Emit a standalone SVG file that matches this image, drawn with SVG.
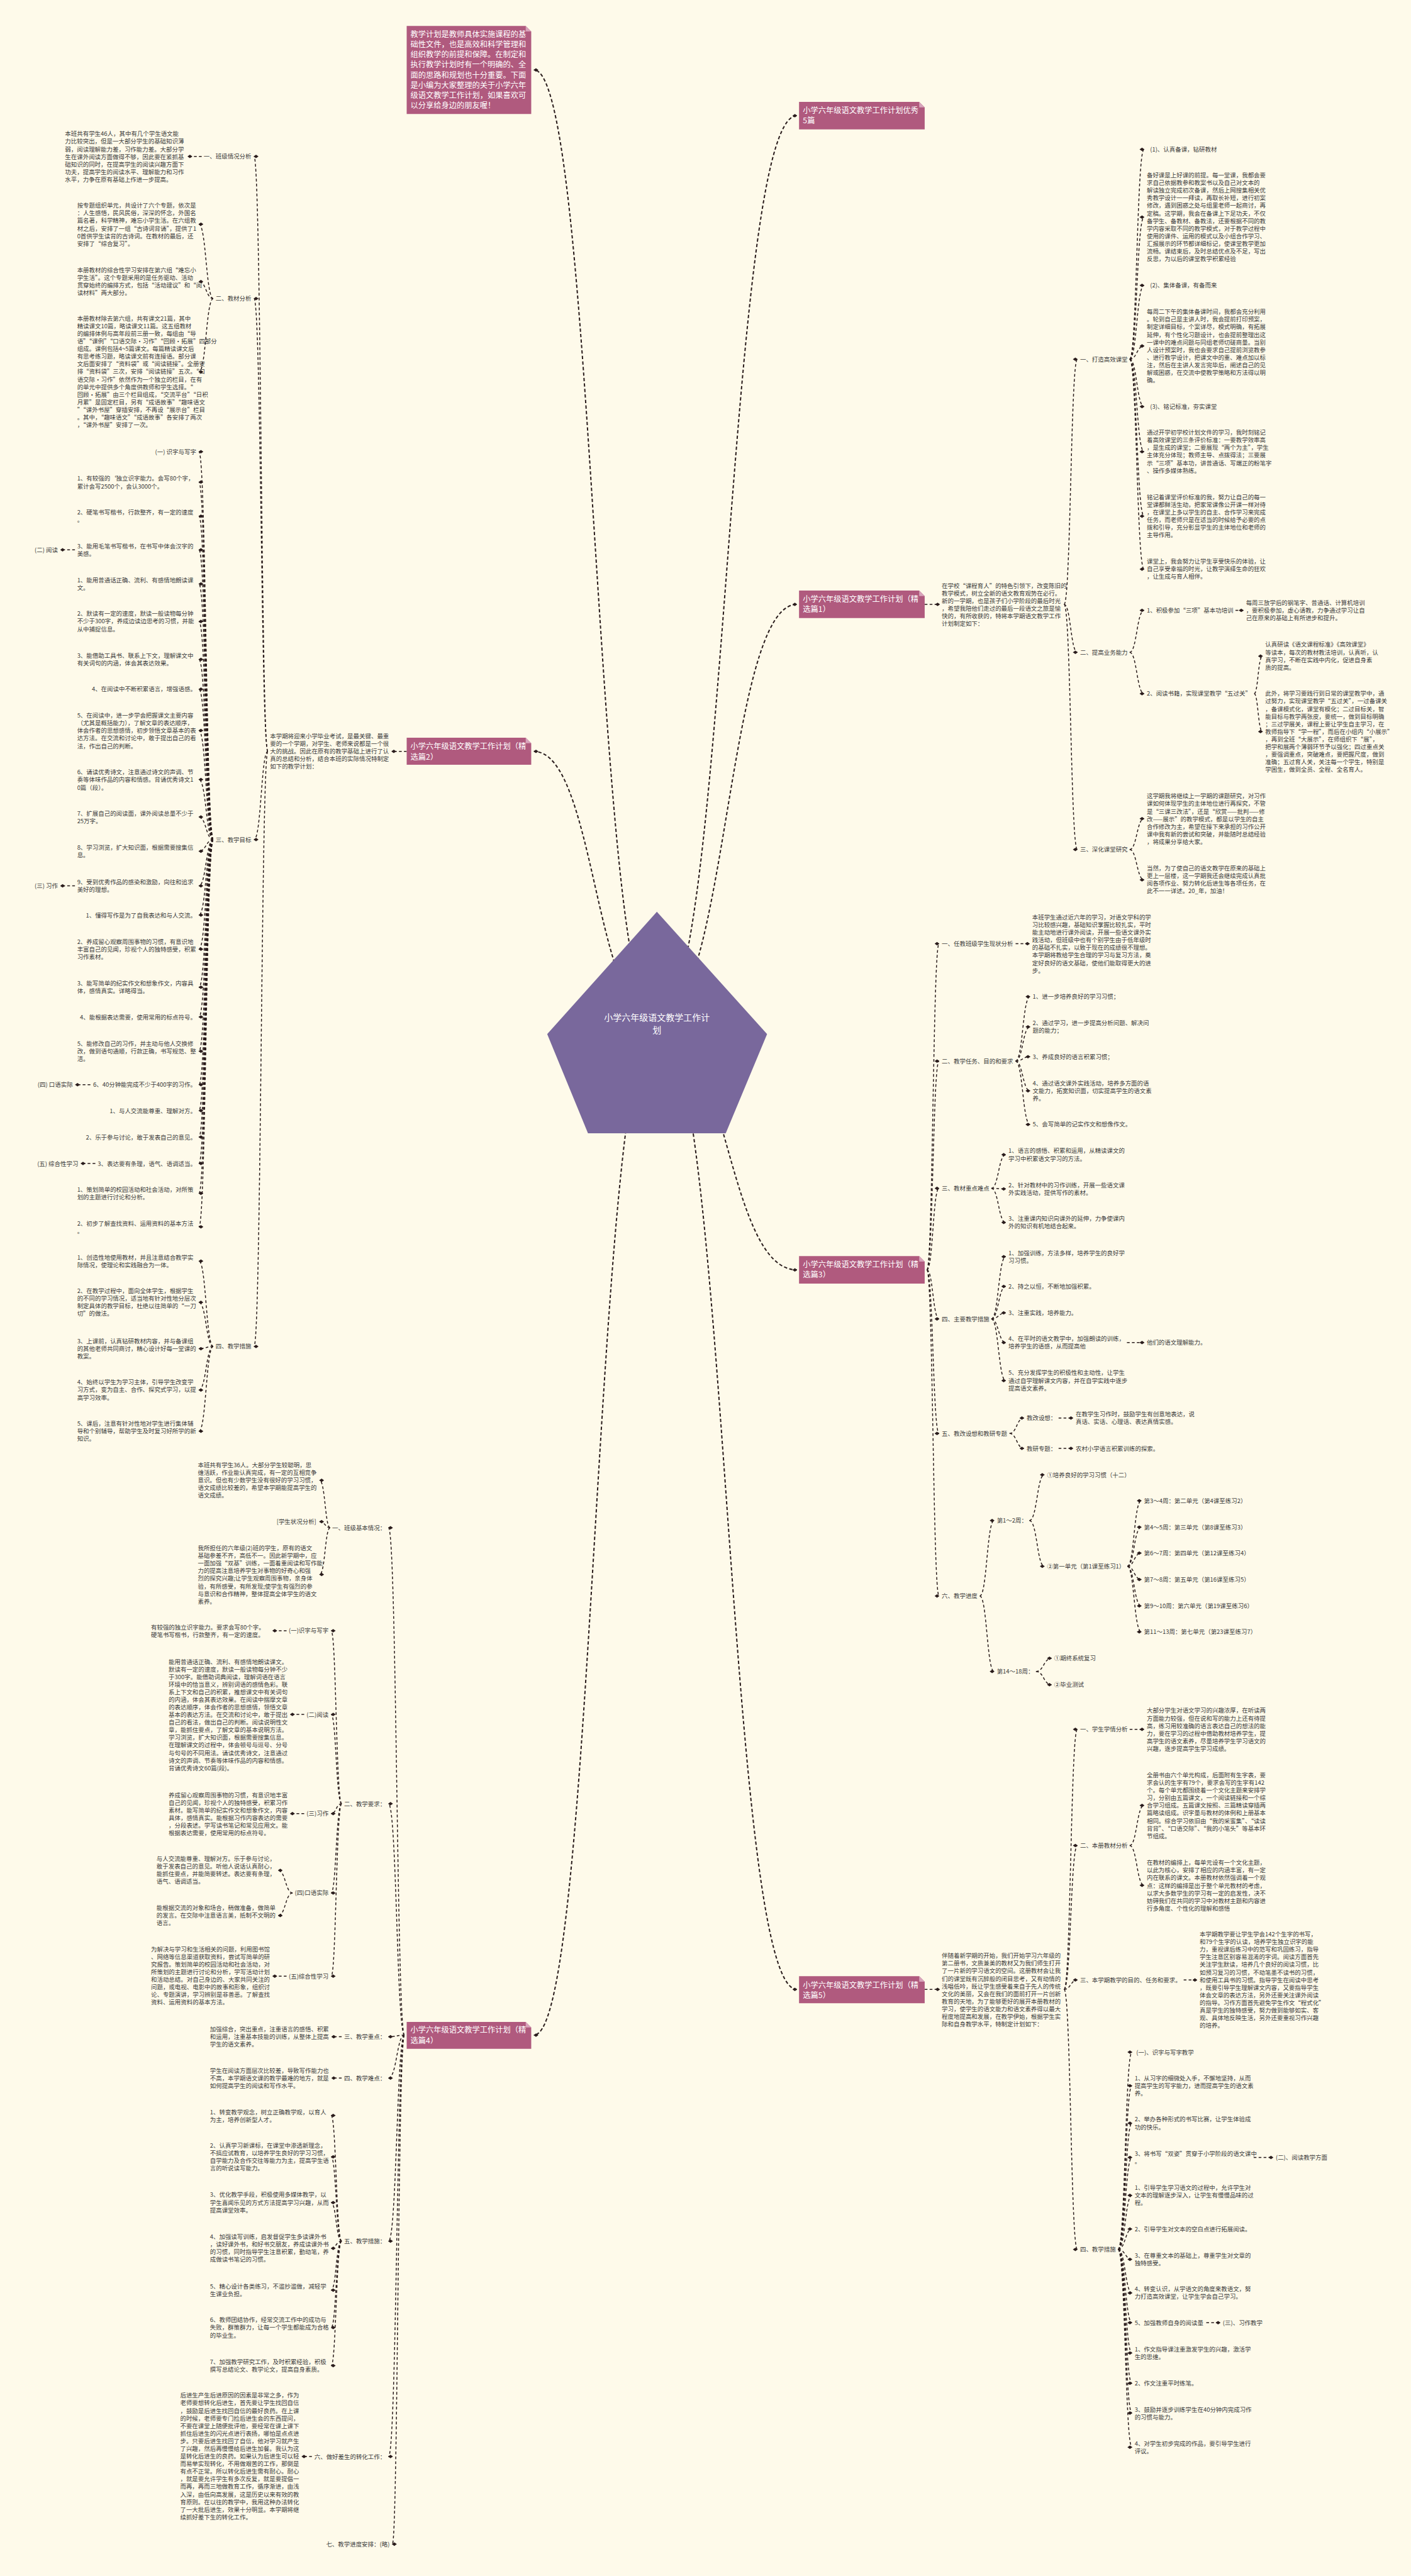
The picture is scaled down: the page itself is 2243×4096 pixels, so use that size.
<svg xmlns="http://www.w3.org/2000/svg" width="2243" height="4096" viewBox="0 0 2243 4096">
<defs>
<style>
.t{font-family:"Noto Sans CJK SC","Noto Sans",sans-serif;font-size:10.8px;fill:#3b3b3b}
.e{text-anchor:end}
.w{font-family:"Noto Sans CJK SC","Noto Sans",sans-serif;font-size:14px;fill:#ffffff}
.r{font-family:"Noto Sans CJK SC","Noto Sans",sans-serif;font-size:16px;fill:#ffffff;text-anchor:middle}
.c{fill:none;stroke:#2a1c1c;stroke-width:1.7;stroke-dasharray:5 4;marker-end:url(#dm)}
.m{fill:none;stroke:#2a1c1c;stroke-width:2.3;stroke-dasharray:6 4;marker-end:url(#dm)}
.pk{fill:#b05a7e}
.fd{fill:#d8a4bb}
</style>
<marker id="dm" viewBox="0 0 10 10" refX="9" refY="5" markerWidth="9" markerHeight="9" markerUnits="userSpaceOnUse" orient="auto"><path d="M0 5 L5 1.5 L10 5 L5 8.5 Z" fill="#2a1c1c"/></marker>
</defs>
<rect width="2243" height="4096" fill="#fefaea"/>
<g transform="scale(0.876)">
<g id="connectors">
<path class="m" d="M1192 1855 C1080 1855 1080 127 969 127"/>
<path class="m" d="M1192 1855 C1080 1855 1080 1364 969 1364"/>
<path class="m" d="M1192 1855 C1080 1855 1080 3694 969 3694"/>
<path class="m" d="M1192 1855 C1319 1855 1319 210 1446 210"/>
<path class="m" d="M1192 1855 C1319 1855 1319 1097 1446 1097"/>
<path class="m" d="M1192 1855 C1319 1855 1319 2305 1446 2305"/>
<path class="m" d="M1192 1855 C1319 1855 1319 3611 1446 3611"/>
<path class="c" d="M1678 1097 L1705 1097"/>
<path class="c" d="M1931 1097 C1943 1097 1943 652 1955 652"/>
<path class="c" d="M1931 1097 C1943 1097 1943 1184 1955 1184"/>
<path class="c" d="M1931 1097 C1943 1097 1943 1542 1955 1542"/>
<path class="c" d="M2050 652 C2063 652 2063 271 2076 271"/>
<path class="c" d="M2050 652 C2063 652 2063 394 2076 394"/>
<path class="c" d="M2050 652 C2063 652 2063 518 2076 518"/>
<path class="c" d="M2050 652 C2063 652 2063 628 2076 628"/>
<path class="c" d="M2050 652 C2063 652 2063 738 2076 738"/>
<path class="c" d="M2050 652 C2063 652 2063 820 2076 820"/>
<path class="c" d="M2050 652 C2063 652 2063 937 2076 937"/>
<path class="c" d="M2050 652 C2063 652 2063 1033 2076 1033"/>
<path class="c" d="M2050 1184 C2063 1184 2063 1108 2076 1108"/>
<path class="c" d="M2050 1184 C2063 1184 2063 1259 2076 1259"/>
<path class="c" d="M2242 1108 L2256 1108"/>
<path class="c" d="M2276 1259 C2283 1259 2283 1191 2291 1191"/>
<path class="c" d="M2276 1259 C2283 1259 2283 1328 2291 1328"/>
<path class="c" d="M2050 1542 C2063 1542 2063 1486 2076 1486"/>
<path class="c" d="M2050 1542 C2063 1542 2063 1597 2076 1597"/>
<path class="c" d="M1682 2305 C1693 2305 1693 1713 1704 1713"/>
<path class="c" d="M1682 2305 C1693 2305 1693 1926 1704 1926"/>
<path class="c" d="M1682 2305 C1693 2305 1693 2157 1704 2157"/>
<path class="c" d="M1682 2305 C1693 2305 1693 2394 1704 2394"/>
<path class="c" d="M1682 2305 C1693 2305 1693 2602 1704 2602"/>
<path class="c" d="M1682 2305 C1693 2305 1693 2897 1704 2897"/>
<path class="c" d="M1843 1713 L1868 1713"/>
<path class="c" d="M1843 1926 C1856 1926 1856 1809 1869 1809"/>
<path class="c" d="M1843 1926 C1856 1926 1856 1864 1869 1864"/>
<path class="c" d="M1843 1926 C1856 1926 1856 1918 1869 1918"/>
<path class="c" d="M1843 1926 C1856 1926 1856 1980 1869 1980"/>
<path class="c" d="M1843 1926 C1856 1926 1856 2041 1869 2041"/>
<path class="c" d="M1799 2157 C1812 2157 1812 2096 1825 2096"/>
<path class="c" d="M1799 2157 C1812 2157 1812 2158 1825 2158"/>
<path class="c" d="M1799 2157 C1812 2157 1812 2219 1825 2219"/>
<path class="c" d="M1799 2394 C1812 2394 1812 2281 1825 2281"/>
<path class="c" d="M1799 2394 C1812 2394 1812 2335 1825 2335"/>
<path class="c" d="M1799 2394 C1812 2394 1812 2383 1825 2383"/>
<path class="c" d="M1799 2394 C1812 2394 1812 2437 1825 2437"/>
<path class="c" d="M1799 2394 C1812 2394 1812 2506 1825 2506"/>
<path class="c" d="M2045 2437 L2076 2437"/>
<path class="c" d="M1832 2602 C1845 2602 1845 2574 1858 2574"/>
<path class="c" d="M1832 2602 C1845 2602 1845 2629 1858 2629"/>
<path class="c" d="M1921 2574 L1947 2574"/>
<path class="c" d="M1921 2629 L1947 2629"/>
<path class="c" d="M1778 2897 C1791 2897 1791 2760 1804 2760"/>
<path class="c" d="M1778 2897 C1791 2897 1791 3034 1804 3034"/>
<path class="c" d="M1868 2760 C1882 2760 1882 2677 1895 2677"/>
<path class="c" d="M1868 2760 C1882 2760 1882 2843 1895 2843"/>
<path class="c" d="M2046 2843 C2058 2843 2058 2724 2071 2724"/>
<path class="c" d="M2046 2843 C2058 2843 2058 2772 2071 2772"/>
<path class="c" d="M2046 2843 C2058 2843 2058 2819 2071 2819"/>
<path class="c" d="M2046 2843 C2058 2843 2058 2867 2071 2867"/>
<path class="c" d="M2046 2843 C2058 2843 2058 2915 2071 2915"/>
<path class="c" d="M2046 2843 C2058 2843 2058 2962 2071 2962"/>
<path class="c" d="M1880 3034 C1894 3034 1894 3010 1908 3010"/>
<path class="c" d="M1880 3034 C1894 3034 1894 3058 1908 3058"/>
<path class="c" d="M1678 3611 L1705 3611"/>
<path class="c" d="M1931 3611 C1943 3611 1943 3139 1955 3139"/>
<path class="c" d="M1931 3611 C1943 3611 1943 3350 1955 3350"/>
<path class="c" d="M1931 3611 C1943 3611 1943 3594 1955 3594"/>
<path class="c" d="M1931 3611 C1943 3611 1943 4083 1955 4083"/>
<path class="c" d="M2050 3139 L2076 3139"/>
<path class="c" d="M2050 3350 C2063 3350 2063 3277 2076 3277"/>
<path class="c" d="M2050 3350 C2063 3350 2063 3422 2076 3422"/>
<path class="c" d="M2148 3594 L2172 3594"/>
<path class="c" d="M2029 4083 C2042 4083 2042 3725 2054 3725"/>
<path class="c" d="M2029 4083 C2042 4083 2042 3786 2054 3786"/>
<path class="c" d="M2029 4083 C2042 4083 2042 3854 2054 3854"/>
<path class="c" d="M2029 4083 C2042 4083 2042 3916 2054 3916"/>
<path class="c" d="M2029 4083 C2042 4083 2042 3985 2054 3985"/>
<path class="c" d="M2029 4083 C2042 4083 2042 4046 2054 4046"/>
<path class="c" d="M2029 4083 C2042 4083 2042 4101 2054 4101"/>
<path class="c" d="M2029 4083 C2042 4083 2042 4162 2054 4162"/>
<path class="c" d="M2029 4083 C2042 4083 2042 4216 2054 4216"/>
<path class="c" d="M2029 4083 C2042 4083 2042 4271 2054 4271"/>
<path class="c" d="M2029 4083 C2042 4083 2042 4326 2054 4326"/>
<path class="c" d="M2029 4083 C2042 4083 2042 4380 2054 4380"/>
<path class="c" d="M2029 4083 C2042 4083 2042 4442 2054 4442"/>
<path class="c" d="M2275 3916 L2310 3916"/>
<path class="c" d="M2189 4216 L2214 4216"/>
<path class="c" d="M738 1364 L711 1364"/>
<path class="c" d="M486 1364 C474 1364 474 284 461 284"/>
<path class="c" d="M486 1364 C474 1364 474 542 461 542"/>
<path class="c" d="M486 1364 C474 1364 474 1524 461 1524"/>
<path class="c" d="M486 1364 C474 1364 474 2444 461 2444"/>
<path class="c" d="M366 284 L341 284"/>
<path class="c" d="M387 542 C374 542 374 407 361 407"/>
<path class="c" d="M387 542 C374 542 374 511 361 511"/>
<path class="c" d="M387 542 C374 542 374 675 361 675"/>
<path class="c" d="M387 1524 C374 1524 374 820 361 820"/>
<path class="c" d="M387 1524 C374 1524 374 875 361 875"/>
<path class="c" d="M387 1524 C374 1524 374 937 361 937"/>
<path class="c" d="M387 1524 C374 1524 374 998 361 998"/>
<path class="c" d="M387 1524 C374 1524 374 1060 361 1060"/>
<path class="c" d="M387 1524 C374 1524 374 1128 361 1128"/>
<path class="c" d="M387 1524 C374 1524 374 1197 361 1197"/>
<path class="c" d="M387 1524 C374 1524 374 1251 361 1251"/>
<path class="c" d="M387 1524 C374 1524 374 1326 361 1326"/>
<path class="c" d="M387 1524 C374 1524 374 1415 361 1415"/>
<path class="c" d="M387 1524 C374 1524 374 1483 361 1483"/>
<path class="c" d="M387 1524 C374 1524 374 1545 361 1545"/>
<path class="c" d="M387 1524 C374 1524 374 1608 361 1608"/>
<path class="c" d="M387 1524 C374 1524 374 1661 361 1661"/>
<path class="c" d="M387 1524 C374 1524 374 1723 361 1723"/>
<path class="c" d="M387 1524 C374 1524 374 1792 361 1792"/>
<path class="c" d="M387 1524 C374 1524 374 1846 361 1846"/>
<path class="c" d="M387 1524 C374 1524 374 1908 361 1908"/>
<path class="c" d="M387 1524 C374 1524 374 1969 361 1969"/>
<path class="c" d="M387 1524 C374 1524 374 2016 361 2016"/>
<path class="c" d="M387 1524 C374 1524 374 2064 361 2064"/>
<path class="c" d="M387 1524 C374 1524 374 2112 361 2112"/>
<path class="c" d="M387 1524 C374 1524 374 2166 361 2166"/>
<path class="c" d="M387 1524 C374 1524 374 2227 361 2227"/>
<path class="c" d="M136 998 L110 998"/>
<path class="c" d="M136 1608 L110 1608"/>
<path class="c" d="M164 1969 L137 1969"/>
<path class="c" d="M173 2112 L147 2112"/>
<path class="c" d="M387 2444 C374 2444 374 2289 361 2289"/>
<path class="c" d="M387 2444 C374 2444 374 2364 361 2364"/>
<path class="c" d="M387 2444 C374 2444 374 2448 361 2448"/>
<path class="c" d="M387 2444 C374 2444 374 2523 361 2523"/>
<path class="c" d="M387 2444 C374 2444 374 2598 361 2598"/>
<path class="c" d="M734 3694 C720 3694 720 2773 705 2773"/>
<path class="c" d="M734 3694 C720 3694 720 3274 705 3274"/>
<path class="c" d="M734 3694 C720 3694 720 3697 705 3697"/>
<path class="c" d="M734 3694 C720 3694 720 3772 705 3772"/>
<path class="c" d="M734 3694 C720 3694 720 4068 705 4068"/>
<path class="c" d="M734 3694 C720 3694 720 4459 705 4459"/>
<path class="c" d="M734 3694 C722 3694 722 4618 712 4618"/>
<path class="c" d="M599 2773 C590 2773 590 2687 580 2687"/>
<path class="c" d="M599 2773 C590 2773 590 2762 580 2762"/>
<path class="c" d="M599 2773 C590 2773 590 2858 580 2858"/>
<path class="c" d="M620 3274 C610 3274 610 2960 601 2960"/>
<path class="c" d="M620 3274 C610 3274 610 3112 601 3112"/>
<path class="c" d="M620 3274 C610 3274 610 3292 601 3292"/>
<path class="c" d="M620 3274 C610 3274 610 3436 601 3436"/>
<path class="c" d="M620 3274 C610 3274 610 3587 601 3587"/>
<path class="c" d="M520 2960 L495 2960"/>
<path class="c" d="M552 3112 L527 3112"/>
<path class="c" d="M552 3292 L527 3292"/>
<path class="c" d="M531 3436 C518 3436 518 3395 505 3395"/>
<path class="c" d="M531 3436 C518 3436 518 3477 505 3477"/>
<path class="c" d="M520 3587 L495 3587"/>
<path class="c" d="M620 3697 L602 3697"/>
<path class="c" d="M620 3772 L602 3772"/>
<path class="c" d="M620 4068 C610 4068 610 3840 601 3840"/>
<path class="c" d="M620 4068 C610 4068 610 3915 601 3915"/>
<path class="c" d="M620 4068 C610 4068 610 3998 601 3998"/>
<path class="c" d="M620 4068 C610 4068 610 4081 601 4081"/>
<path class="c" d="M620 4068 C610 4068 610 4157 601 4157"/>
<path class="c" d="M620 4068 C610 4068 610 4225 601 4225"/>
<path class="c" d="M620 4068 C610 4068 610 4294 601 4294"/>
<path class="c" d="M566 4459 L548 4459"/>
</g>

<g id="root">
<polygon points="1192,1655 1392,1877 1317,2057 1067,2057 993,1877" fill="#79689c"/>
<text class="r" x="1192" y="1853">小学六年级语文教学工作计</text>
<text class="r" x="1192" y="1876">划</text>
</g>

<g id="note">
<polygon class="pk" points="738,47 954,47 964,57 964,207 738,207"/>
<polygon class="fd" points="954,47 954,57 964,57"/>
<text class="w" x="745" y="67"><tspan x="745">教学计划是教师具体实施课程的基</tspan><tspan x="745" dy="18.5">础性文件，也是高效和科学管理和</tspan><tspan x="745" dy="18.5">组织教学的前提和保障。在制定和</tspan><tspan x="745" dy="18.5">执行教学计划时有一个明确的、全</tspan><tspan x="745" dy="18.5">面的思路和规划也十分重要。下面</tspan><tspan x="745" dy="18.5">是小编为大家整理的关于小学六年</tspan><tspan x="745" dy="18.5">级语文教学工作计划，如果喜欢可</tspan><tspan x="745" dy="18.5">以分享给身边的朋友喔！</tspan></text>
</g>

<g id="b-top">
<polygon class="pk" points="1450,185 1668,185 1678,195 1678,235 1450,235"/>
<polygon class="fd" points="1668,185 1668,195 1678,195"/>
<text class="w" x="1457" y="205.5"><tspan x="1457">小学六年级语文教学工作计划优秀</tspan><tspan x="1457" dy="18">5篇</tspan></text>
</g>

<g id="b-p1">
<polygon class="pk" points="1450,1072 1668,1072 1678,1082 1678,1122 1450,1122"/>
<polygon class="fd" points="1668,1072 1668,1082 1678,1082"/>
<text class="w" x="1457" y="1092"><tspan x="1457">小学六年级语文教学工作计划（精</tspan><tspan x="1457" dy="19">选篇1）</tspan></text>
</g>
<g id="p1-intro"><text class="t" x="1709" y="1067"><tspan x="1709">在学校“课程育人”的特色引领下，改变陈旧的</tspan><tspan x="1709" dy="13.8">教学模式，树立全新的语文教育观势在必行。</tspan><tspan x="1709" dy="13.8">新的一学期，也是孩子们小学阶段的最后时光</tspan><tspan x="1709" dy="13.8">，希望我陪他们走过的最后一段语文之旅是愉</tspan><tspan x="1709" dy="13.8">快的，有所收获的，特将本学期语文教学工作</tspan><tspan x="1709" dy="13.8">计划制定如下：</tspan></text></g>
<g id="p1-a"><text class="t" x="1960" y="656">一、打造高效课堂</text></g>
<g id="p1-b"><text class="t" x="1960" y="1188">二、提高业务能力</text></g>
<g id="p1-c"><text class="t" x="1960" y="1546">三、深化课堂研究</text></g>
<g id="p1-a1"><text class="t" x="2087" y="275">(1)、认真备课，钻研教材</text></g>
<g id="p1-a1t"><text class="t" x="2081" y="322"><tspan x="2081">备好课是上好课的前提。每一堂课，我都会要</tspan><tspan x="2081" dy="13.8">求自己依据教参和教案书以及自己对文本的</tspan><tspan x="2081" dy="13.8">解读独立完成初次备课，然后上网搜集相关优</tspan><tspan x="2081" dy="13.8">秀教学设计一一拜读，再取长补短，进行初案</tspan><tspan x="2081" dy="13.8">修改，遇到困惑之处与组里老师一起商讨，再</tspan><tspan x="2081" dy="13.8">定稿。这学期，我会在备课上下足功夫，不仅</tspan><tspan x="2081" dy="13.8">备学生、备教材、备教法，还要根据不同的教</tspan><tspan x="2081" dy="13.8">学内容采取不同的教学模式，对于教学过程中</tspan><tspan x="2081" dy="13.8">使用的课件、运用的模式以及小组合作学习、</tspan><tspan x="2081" dy="13.8">汇报展示的环节都详细标记，使课堂教学更加</tspan><tspan x="2081" dy="13.8">流畅。课结束后，及时总结优点及不足，写出</tspan><tspan x="2081" dy="13.8">反思，为以后的课堂教学积累经验</tspan></text></g>
<g id="p1-a2"><text class="t" x="2087" y="522">(2)、集体备课，有备而来</text></g>
<g id="p1-a2t"><text class="t" x="2081" y="570"><tspan x="2081">每周二下午的集体备课时间，我都会充分利用</tspan><tspan x="2081" dy="13.8">。轮到自己是主讲人时，我会提前打印预案，</tspan><tspan x="2081" dy="13.8">制定详细目标，个案详尽，模式明确，有拓展</tspan><tspan x="2081" dy="13.8">延伸，有个性化习题设计，也会提前整理出这</tspan><tspan x="2081" dy="13.8">一课中的难点问题与同组老师切磋商量。当别</tspan><tspan x="2081" dy="13.8">人设计预案时，我也会要求自己提前浏览教参</tspan><tspan x="2081" dy="13.8">、进行教学设计，把课文中的重、难点加以标</tspan><tspan x="2081" dy="13.8">注，然后在主讲人发言完毕后，阐述自己的见</tspan><tspan x="2081" dy="13.8">解或困惑，在交流中使教学策略和方法得以明</tspan><tspan x="2081" dy="13.8">确。</tspan></text></g>
<g id="p1-a3"><text class="t" x="2087" y="742">(3)、铭记标准，夯实课堂</text></g>
<g id="p1-a3t"><text class="t" x="2081" y="789"><tspan x="2081">通过开学初学校计划文件的学习，我时刻铭记</tspan><tspan x="2081" dy="13.8">着高效课堂的三条评价标准：一要教学效率高</tspan><tspan x="2081" dy="13.8">，是生成的课堂；二要展现“两个为主”，学生</tspan><tspan x="2081" dy="13.8">主体充分体现；教师主导、点拨得法；三要展</tspan><tspan x="2081" dy="13.8">示“三项”基本功，讲普通话、写端正的粉笔字</tspan><tspan x="2081" dy="13.8">、操作多媒体熟练。</tspan></text></g>
<g id="p1-a4t"><text class="t" x="2081" y="906"><tspan x="2081">铭记着课堂评价标准的我，努力让自己的每一</tspan><tspan x="2081" dy="13.8">堂课都鲜活生动，把家常课像公开课一样对待</tspan><tspan x="2081" dy="13.8">，在课堂上多以学生的自主、合作学习来完成</tspan><tspan x="2081" dy="13.8">任务，而老师只是在适当的时候给予必要的点</tspan><tspan x="2081" dy="13.8">拨和引导，充分彰显学生的主体地位和老师的</tspan><tspan x="2081" dy="13.8">主导作用。</tspan></text></g>
<g id="p1-a5t"><text class="t" x="2081" y="1023"><tspan x="2081">课堂上，我会努力让学生享受快乐的体验，让</tspan><tspan x="2081" dy="13.8">自己享受幸福的时光，让教学演绎生命的狂欢</tspan><tspan x="2081" dy="13.8">，让生成与育人相伴。</tspan></text></g>
<g id="p1-b1"><text class="t" x="2081" y="1112">1、积极参加“三项”基本功培训</text></g>
<g id="p1-b1t"><text class="t" x="2261" y="1098.5"><tspan x="2261">每周三放学后的钢笔字、普通话、计算机培训</tspan><tspan x="2261" dy="13.8">，要积极参加，虚心请教，力争通过学习让自</tspan><tspan x="2261" dy="13.8">己在原来的基础上有所进步和提升。</tspan></text></g>
<g id="p1-b2"><text class="t" x="2081" y="1263">2、阅读书籍，实现课堂教学“五过关”</text></g>
<g id="p1-b2a"><text class="t" x="2296" y="1174"><tspan x="2296">认真研读《语文课程标准》《高效课堂》</tspan><tspan x="2296" dy="13.8">等读本，每次的教材教法培训，认真听，认</tspan><tspan x="2296" dy="13.8">真学习，不断在实践中内化，促进自身素</tspan><tspan x="2296" dy="13.8">质的提高。</tspan></text></g>
<g id="p1-b2b"><text class="t" x="2296" y="1263"><tspan x="2296">此外，将学习要践行到日常的课堂教学中，通</tspan><tspan x="2296" dy="13.8">过努力，实现课堂教学“五过关”，一过备课关</tspan><tspan x="2296" dy="13.8">，备课模式化，课堂有模化；二过目标关，智</tspan><tspan x="2296" dy="13.8">能目标与教学两张皮，要统一，做到目标明确</tspan><tspan x="2296" dy="13.8">；三过学展关，课程上要让学生自主学习，在</tspan><tspan x="2296" dy="13.8">教师指导下“学一程”，而后在小组内“小展示”</tspan><tspan x="2296" dy="13.8">，再到全班“大展示”，在师组织下“展”，</tspan><tspan x="2296" dy="13.8">把学和展两个薄弱环节予以强化；四过重点关</tspan><tspan x="2296" dy="13.8">，要强调重点，突破难点，要把握尺度，做到</tspan><tspan x="2296" dy="13.8">准确；五过育人关，关注每一个学生，特别是</tspan><tspan x="2296" dy="13.8">学困生，做到全员、全程、全名育人。</tspan></text></g>
<g id="p1-c1"><text class="t" x="2081" y="1449"><tspan x="2081">这学期我将继续上一学期的课题研究，对习作</tspan><tspan x="2081" dy="13.8">课如何体现学生的主体地位进行再探究，不管</tspan><tspan x="2081" dy="13.8">是“三课三改法”，还是“欣赏——批判——修</tspan><tspan x="2081" dy="13.8">改——展示”的教学模式，都是以学生的自主</tspan><tspan x="2081" dy="13.8">合作修改为主，希望在接下来承担的习作公开</tspan><tspan x="2081" dy="13.8">课中我有新的尝试和突破，并能随时总结经验</tspan><tspan x="2081" dy="13.8">，将成果分享给大家。</tspan></text></g>
<g id="p1-c2"><text class="t" x="2081" y="1580"><tspan x="2081">当然，为了使自己的语文教学在原来的基础上</tspan><tspan x="2081" dy="13.8">更上一层楼，这一学期我还会继续完成认真批</tspan><tspan x="2081" dy="13.8">阅各项作业、努力转化后进生等各项任务，在</tspan><tspan x="2081" dy="13.8">此不一一详述。20_年，加油！</tspan></text></g>

<g id="b-p3">
<polygon class="pk" points="1450,2280 1668,2280 1678,2290 1678,2330 1450,2330"/>
<polygon class="fd" points="1668,2280 1668,2290 1678,2290"/>
<text class="w" x="1457" y="2300.5"><tspan x="1457">小学六年级语文教学工作计划（精</tspan><tspan x="1457" dy="18.5">选篇3）</tspan></text>
</g>
<g id="p3-a"><text class="t" x="1709" y="1717">一、任教班级学生现状分析</text></g>
<g id="p3-at"><text class="t" x="1873" y="1669"><tspan x="1873">本班学生通过近六年的学习，对语文学科的学</tspan><tspan x="1873" dy="13.8">习比较感兴趣，基础知识掌握比较扎实，平时</tspan><tspan x="1873" dy="13.8">能主动地进行课外阅读，开展一些语文课外实</tspan><tspan x="1873" dy="13.8">践活动，但班级中也有个别学生由于低年级时</tspan><tspan x="1873" dy="13.8">的基础不扎实，以致于现在的成绩很不理想。</tspan><tspan x="1873" dy="13.8">本学期将教给学生合理的学习与复习方法，奠</tspan><tspan x="1873" dy="13.8">定好良好的语文基础，使他们能取得更大的进</tspan><tspan x="1873" dy="13.8">步。</tspan></text></g>
<g id="p3-b"><text class="t" x="1709" y="1930">二、教学任务、目的和要求</text></g>
<g id="p3-b1"><text class="t" x="1874" y="1813">1、进一步培养良好的学习习惯；</text></g>
<g id="p3-b2"><text class="t" x="1874" y="1861"><tspan x="1874">2、通过学习，进一步提高分析问题、解决问</tspan><tspan x="1874" dy="13.8">题的能力；</tspan></text></g>
<g id="p3-b3"><text class="t" x="1874" y="1922">3、养成良好的语言积累习惯；</text></g>
<g id="p3-b4"><text class="t" x="1874" y="1970"><tspan x="1874">4、通过语文课外实践活动，培养多方面的语</tspan><tspan x="1874" dy="13.8">文能力，拓宽知识面，切实提高学生的语文素</tspan><tspan x="1874" dy="13.8">养。</tspan></text></g>
<g id="p3-b5"><text class="t" x="1874" y="2045">5、会写简单的记实作文和想像作文。</text></g>
<g id="p3-c"><text class="t" x="1709" y="2161">三、教材重点难点</text></g>
<g id="p3-c1"><text class="t" x="1830" y="2093"><tspan x="1830">1、语言的感悟、积累和运用，从精读课文的</tspan><tspan x="1830" dy="13.8">学习中积累语文学习的方法。</tspan></text></g>
<g id="p3-c2"><text class="t" x="1830" y="2155"><tspan x="1830">2、针对教材中的习作训练，开展一些语文课</tspan><tspan x="1830" dy="13.8">外实践活动，提供写作的素材。</tspan></text></g>
<g id="p3-c3"><text class="t" x="1830" y="2216"><tspan x="1830">3、注重课内知识向课外的延伸，力争使课内</tspan><tspan x="1830" dy="13.8">外的知识有机地结合起来。</tspan></text></g>
<g id="p3-d"><text class="t" x="1709" y="2398">四、主要教学措施</text></g>
<g id="p3-d1"><text class="t" x="1830" y="2278"><tspan x="1830">1、加强训练，方法多样，培养学生的良好学</tspan><tspan x="1830" dy="13.8">习习惯。</tspan></text></g>
<g id="p3-d2"><text class="t" x="1830" y="2339">2、持之以恒，不断地加强积累。</text></g>
<g id="p3-d3"><text class="t" x="1830" y="2387">3、注重实践，培养能力。</text></g>
<g id="p3-d4"><text class="t" x="1830" y="2434"><tspan x="1830">4、在平时的语文教学中，加强朗读的训练，</tspan><tspan x="1830" dy="13.8">培养学生的语感，从而提高他</tspan></text></g>
<g id="p3-d4a"><text class="t" x="2081" y="2441">他们的语文理解能力。</text></g>
<g id="p3-d5"><text class="t" x="1830" y="2496"><tspan x="1830">5、充分发挥学生的积极性和主动性，让学生</tspan><tspan x="1830" dy="13.8">通过自学理解课文内容，并在自学实践中逐步</tspan><tspan x="1830" dy="13.8">提高语文素养。</tspan></text></g>
<g id="p3-e"><text class="t" x="1709" y="2606">五、教改设想和教研专题</text></g>
<g id="p3-e1"><text class="t" x="1863" y="2578">教改设想：</text></g>
<g id="p3-e1t"><text class="t" x="1952" y="2571"><tspan x="1952">在教学生习作时，鼓励学生有创意地表达，说</tspan><tspan x="1952" dy="13.8">真话、实话、心理话、表达真情实感。</tspan></text></g>
<g id="p3-e2"><text class="t" x="1863" y="2633">教研专题：</text></g>
<g id="p3-e2t"><text class="t" x="1952" y="2633">农村小学语言积累训练的探索。</text></g>
<g id="p3-f"><text class="t" x="1709" y="2901">六、教学进度</text></g>
<g id="p3-f1"><text class="t" x="1809" y="2764">第1～2周：</text></g>
<g id="p3-f1a"><text class="t" x="1900" y="2681">①培养良好的学习习惯（十二）</text></g>
<g id="p3-f1b"><text class="t" x="1900" y="2847">②第一单元（第1课至练习1）</text></g>
<g id="p3-w1"><text class="t" x="2076" y="2728">第3～4周：第二单元（第4课至练习2）</text></g>
<g id="p3-w2"><text class="t" x="2076" y="2776">第4～5周：第三单元（第8课至练习3）</text></g>
<g id="p3-w3"><text class="t" x="2076" y="2823">第6～7周：第四单元（第12课至练习4）</text></g>
<g id="p3-w4"><text class="t" x="2076" y="2871">第7～8周：第五单元（第16课至练习5）</text></g>
<g id="p3-w5"><text class="t" x="2076" y="2919">第9～10周：第六单元（第19课至练习6）</text></g>
<g id="p3-w6"><text class="t" x="2076" y="2966">第11～13周：第七单元（第23课至练习7）</text></g>
<g id="p3-f2"><text class="t" x="1809" y="3038">第14～18周：</text></g>
<g id="p3-f2a"><text class="t" x="1913" y="3014">①期终系统复习</text></g>
<g id="p3-f2b"><text class="t" x="1913" y="3062">②毕业测试</text></g>

<g id="b-p5">
<polygon class="pk" points="1450,3587 1668,3587 1678,3597 1678,3636 1450,3636"/>
<polygon class="fd" points="1668,3587 1668,3597 1678,3597"/>
<text class="w" x="1457" y="3608"><tspan x="1457">小学六年级语文教学工作计划（精</tspan><tspan x="1457" dy="18.5">选篇5）</tspan></text>
</g>
<g id="p5-intro"><text class="t" x="1709" y="3554"><tspan x="1709">伴随着新学期的开始，我们开始学习六年级的</tspan><tspan x="1709" dy="13.8">第二册书，文质兼美的教材又为我们师生打开</tspan><tspan x="1709" dy="13.8">了一片新的学习语文的空间。这册教材会让我</tspan><tspan x="1709" dy="13.8">们的课堂既有沉醉般的闭目思考，又有动情的</tspan><tspan x="1709" dy="13.8">浅唱低吟，既让学生感受着来自于先人的传统</tspan><tspan x="1709" dy="13.8">文化的美丽，又会在我们的面前打开一片创新</tspan><tspan x="1709" dy="13.8">教育的天地，为了能够更好的展开本册教材的</tspan><tspan x="1709" dy="13.8">学习，使学生的语文能力和语文素养得以最大</tspan><tspan x="1709" dy="13.8">程度地提高和发展，在教学伊始，根据学生实</tspan><tspan x="1709" dy="13.8">际和自身教学水平，特制定计划如下：</tspan></text></g>
<g id="p5-a"><text class="t" x="1960" y="3143">一、学生学情分析</text></g>
<g id="p5-at"><text class="t" x="2081" y="3109"><tspan x="2081">大部分学生对语文学习的兴趣浓厚，在听读两</tspan><tspan x="2081" dy="13.8">方面能力较强，但在说和写的能力上还有待提</tspan><tspan x="2081" dy="13.8">高，练习用较准确的语言表达自己的想法的能</tspan><tspan x="2081" dy="13.8">力，要在学习的过程中借助教材培养学生，提</tspan><tspan x="2081" dy="13.8">高学生的语文素养，尽量培养学生学习语文的</tspan><tspan x="2081" dy="13.8">兴趣，逐步提高学生学习成绩。</tspan></text></g>
<g id="p5-b"><text class="t" x="1960" y="3354">二、本册教材分析</text></g>
<g id="p5-b1"><text class="t" x="2081" y="3226"><tspan x="2081">全册书由六个单元构成，后面附有生字表，要</tspan><tspan x="2081" dy="13.8">求会认的生字有79个，要求会写的生字有142</tspan><tspan x="2081" dy="13.8">个。每个单元都围绕着一个文化主题来安排学</tspan><tspan x="2081" dy="13.8">习，分别由五篇课文，一个阅读链接和一个综</tspan><tspan x="2081" dy="13.8">合学习组成。五篇课文按照、三篇精读穿插两</tspan><tspan x="2081" dy="13.8">篇略读组成。识字量与教材的体例和上册基本</tspan><tspan x="2081" dy="13.8">相同。综合学习依旧由“我的采蜜集”、“读读</tspan><tspan x="2081" dy="13.8">背背”、“口语交际”、“我的小笔头”等基本环</tspan><tspan x="2081" dy="13.8">节组成。</tspan></text></g>
<g id="p5-b2"><text class="t" x="2081" y="3385"><tspan x="2081">在教材的编排上，每单元设有一个文化主题，</tspan><tspan x="2081" dy="13.8">以此为核心，安排了相应的内涵丰富，有一定</tspan><tspan x="2081" dy="13.8">内在联系的课文。本册教材依然强调着一个观</tspan><tspan x="2081" dy="13.8">点：这样的编排是出于整个单元教材的考虑，</tspan><tspan x="2081" dy="13.8">以求大多数学生的学习有一定的启发性，决不</tspan><tspan x="2081" dy="13.8">妨碍我们在共同的学习中对教材主题和内容进</tspan><tspan x="2081" dy="13.8">行多角度、个性化的理解和感悟</tspan></text></g>
<g id="p5-c"><text class="t" x="1960" y="3598">三、本学期教学的目的、任务和要求。</text></g>
<g id="p5-ct"><text class="t" x="2177" y="3515"><tspan x="2177">本学期教学要让学生学会142个生字的书写，</tspan><tspan x="2177" dy="13.8">和79个生字的认读，培养学生独立识字的能</tspan><tspan x="2177" dy="13.8">力，重视课后练习中的范写和巩固练习，指导</tspan><tspan x="2177" dy="13.8">学生注意区别容易混淆的字词。阅读方面首先</tspan><tspan x="2177" dy="13.8">关注学生默读，培养几个良好的阅读习惯，比</tspan><tspan x="2177" dy="13.8">如预习复习的习惯，不动笔墨不读书的习惯，</tspan><tspan x="2177" dy="13.8">和使用工具书的习惯。指导学生在阅读中思考</tspan><tspan x="2177" dy="13.8">，既要引导学生理解课文内容，又要指导学生</tspan><tspan x="2177" dy="13.8">体会文章的表达方法，另外还要关注课外阅读</tspan><tspan x="2177" dy="13.8">的指导。习作方面首先避免学生作文“程式化”</tspan><tspan x="2177" dy="13.8">真是学生的独特感受，努力做到能够如实、客</tspan><tspan x="2177" dy="13.8">观、具体地反映生活，另外还要重视习作兴趣</tspan><tspan x="2177" dy="13.8">的培养。</tspan></text></g>
<g id="p5-d"><text class="t" x="1960" y="4087">四、教学措施</text></g>
<g id="p5-d0"><text class="t" x="2062" y="3729">(一)、识字与写字教学</text></g>
<g id="p5-d1"><text class="t" x="2059" y="3776.5"><tspan x="2059">1、从习字的细微处入手，不懈地坚持，从而</tspan><tspan x="2059" dy="13.8">提高学生的写字能力，进而提高学生的语文素</tspan><tspan x="2059" dy="13.8">养。</tspan></text></g>
<g id="p5-d2"><text class="t" x="2059" y="3851"><tspan x="2059">2、举办各种形式的书写比赛，让学生体验成</tspan><tspan x="2059" dy="13.8">功的快乐。</tspan></text></g>
<g id="p5-d3"><text class="t" x="2059" y="3913"><tspan x="2059">3、将书写“双姿”贯穿于小学阶段的语文课中</tspan><tspan x="2059" dy="13.8">。</tspan></text></g>
<g id="p5-d3a"><text class="t" x="2315" y="3920">(二)、阅读教学方面</text></g>
<g id="p5-r1"><text class="t" x="2059" y="3975"><tspan x="2059">1、引导学生学习语文的过程中，允许学生对</tspan><tspan x="2059" dy="13.8">文本的理解逐步深入，让学生有慢慢品味的过</tspan><tspan x="2059" dy="13.8">程。</tspan></text></g>
<g id="p5-r2"><text class="t" x="2059" y="4050">2、引导学生对文本的空白点进行拓展阅读。</text></g>
<g id="p5-r3"><text class="t" x="2059" y="4098"><tspan x="2059">3、在尊重文本的基础上，尊重学生对文章的</tspan><tspan x="2059" dy="13.8">独特感受。</tspan></text></g>
<g id="p5-r4"><text class="t" x="2059" y="4159"><tspan x="2059">4、转变认识，从学语文的角度来教语文，努</tspan><tspan x="2059" dy="13.8">力打造高效课堂，让学生学会自己学习。</tspan></text></g>
<g id="p5-r5"><text class="t" x="2059" y="4220">5、加强教师自身的阅读量</text></g>
<g id="p5-r5a"><text class="t" x="2219" y="4220">(三)、习作教学</text></g>
<g id="p5-x1"><text class="t" x="2059" y="4268"><tspan x="2059">1、作文指导课注重激发学生的兴趣，激活学</tspan><tspan x="2059" dy="13.8">生的思维。</tspan></text></g>
<g id="p5-x2"><text class="t" x="2059" y="4330">2、作文注重平时练笔。</text></g>
<g id="p5-x3"><text class="t" x="2059" y="4377.5"><tspan x="2059">3、鼓励并逐步训练学生在40分钟内完成习作</tspan><tspan x="2059" dy="13.8">的习惯与能力。</tspan></text></g>
<g id="p5-x4"><text class="t" x="2059" y="4439"><tspan x="2059">4、对学生初步完成的作品，要引导学生进行</tspan><tspan x="2059" dy="13.8">评议。</tspan></text></g>

<g id="b-p2">
<polygon class="pk" points="738,1339 954,1339 964,1349 964,1388 738,1388"/>
<polygon class="fd" points="954,1339 954,1349 964,1349"/>
<text class="w" x="745" y="1360"><tspan x="745">小学六年级语文教学工作计划（精</tspan><tspan x="745" dy="18.5">选篇2）</tspan></text>
</g>
<g id="p2-intro"><text class="t" x="490" y="1340"><tspan x="490">本学期将迎来小学毕业考试，是最关键、最重</tspan><tspan x="490" dy="13.8">要的一个学期，对学生、老师来说都是一个很</tspan><tspan x="490" dy="13.8">大的挑战。因此在原有的教学基础上进行了认</tspan><tspan x="490" dy="13.8">真的总结和分析，结合本班的实际情况特制定</tspan><tspan x="490" dy="13.8">如下的教学计划：</tspan></text></g>
<g id="p2-a"><text class="t e" x="456" y="288">一、班级情况分析</text></g>
<g id="p2-at"><text class="t" x="118" y="247"><tspan x="118">本班共有学生46人，其中有几个学生语文能</tspan><tspan x="118" dy="13.8">力比较突出，但是一大部分学生的基础知识薄</tspan><tspan x="118" dy="13.8">弱，阅读理解能力差，习作能力差。大部分学</tspan><tspan x="118" dy="13.8">生在课外阅读方面做得不够，因此要在紧抓基</tspan><tspan x="118" dy="13.8">础知识的同时，在提高学生的阅读兴趣方面下</tspan><tspan x="118" dy="13.8">功夫，提高学生的阅读水平、理解能力和习作</tspan><tspan x="118" dy="13.8">水平，力争在原有基础上作进一步提高。</tspan></text></g>
<g id="p2-b"><text class="t e" x="456" y="546">二、教材分析</text></g>
<g id="p2-b1"><text class="t" x="140" y="377"><tspan x="140">按专题组织单元，共设计了六个专题，依次是</tspan><tspan x="140" dy="13.8">：人生感悟，民风民俗，深深的怀念，外国名</tspan><tspan x="140" dy="13.8">篇名著，科学精神，难忘小学生活。在六组教</tspan><tspan x="140" dy="13.8">材之后，安排了一组“古诗词背诵”，提供了1</tspan><tspan x="140" dy="13.8">0首供学生读背的古诗词。在教材的最后，还</tspan><tspan x="140" dy="13.8">安排了“综合复习”。</tspan></text></g>
<g id="p2-b2"><text class="t" x="140" y="494"><tspan x="140">本册教材的综合性学习安排在第六组“难忘小</tspan><tspan x="140" dy="13.8">学生活”。这个专题采用的是任务驱动、活动</tspan><tspan x="140" dy="13.8">贯穿始终的编排方式，包括“活动建议”和“阅</tspan><tspan x="140" dy="13.8">读材料”两大部分。</tspan></text></g>
<g id="p2-b3"><text class="t" x="140" y="582"><tspan x="140">本册教材除去第六组，共有课文21篇，其中</tspan><tspan x="140" dy="13.8">精读课文10篇，略读课文11篇。这五组教材</tspan><tspan x="140" dy="13.8">的编排体例与高年段前三册一致，每组由“导</tspan><tspan x="140" dy="13.8">语”“课例”“口语交际·习作”“回顾·拓展”四部分</tspan><tspan x="140" dy="13.8">组成。课例包括4~5篇课文。每篇精读课文后</tspan><tspan x="140" dy="13.8">有思考练习题，略读课文前有连接语。部分课</tspan><tspan x="140" dy="13.8">文后面安排了“资料袋”或“阅读链接”。全册安</tspan><tspan x="140" dy="13.8">排“资料袋”三次，安排“阅读链接”五次。“口</tspan><tspan x="140" dy="13.8">语交际·习作”依然作为一个独立的栏目，在有</tspan><tspan x="140" dy="13.8">的单元中提供多个角度供教师和学生选择。“</tspan><tspan x="140" dy="13.8">回顾·拓展”由三个栏目组成，“交流平台”“日积</tspan><tspan x="140" dy="13.8">月累”是固定栏目，另有“成语故事”“趣味语文</tspan><tspan x="140" dy="13.8">”“课外书屋”穿插安排，不再设“展示台”栏目</tspan><tspan x="140" dy="13.8">。其中，“趣味语文”“成语故事”各安排了两次</tspan><tspan x="140" dy="13.8">，“课外书屋”安排了一次。</tspan></text></g>
<g id="p2-c"><text class="t e" x="456" y="1528">三、教学目标</text></g>
<g id="p2-c0"><text class="t e" x="356" y="824">(一) 识字与写字</text></g>
<g id="p2-c1"><text class="t" x="140" y="872.7"><tspan x="140">1、有较强的‘独立识字能力。会写80个字，</tspan><tspan x="140" dy="13.8">累计会写2500个，会认3000个。</tspan></text></g>
<g id="p2-c2"><text class="t" x="140" y="933.7"><tspan x="140">2、硬笔书写楷书，行款整齐，有一定的速度</tspan><tspan x="140" dy="13.8">。</tspan></text></g>
<g id="p2-c3"><text class="t" x="140" y="995.3"><tspan x="140">3、能用毛笔书写楷书，在书写中体会汉字的</tspan><tspan x="140" dy="13.8">美感。</tspan></text></g>
<g id="p2-s2"><text class="t e" x="105" y="1002">(二) 阅读</text></g>
<g id="p2-c4"><text class="t" x="140" y="1057"><tspan x="140">1、能用普通话正确、流利、有感情地朗读课</tspan><tspan x="140" dy="13.8">文。</tspan></text></g>
<g id="p2-c5"><text class="t" x="140" y="1118"><tspan x="140">2、默读有一定的速度，默读一般读物每分钟</tspan><tspan x="140" dy="13.8">不少于300字，养成边读边思考的习惯，并能</tspan><tspan x="140" dy="13.8">从中捕捉信息。</tspan></text></g>
<g id="p2-c6"><text class="t" x="140" y="1194"><tspan x="140">3、能借助工具书、联系上下文，理解课文中</tspan><tspan x="140" dy="13.8">有关词句的内涵，体会其表达效果。</tspan></text></g>
<g id="p2-c7"><text class="t e" x="356" y="1255">4、在阅读中不断积累语言，增强语感。</text></g>
<g id="p2-c8"><text class="t" x="140" y="1302.7"><tspan x="140">5、在阅读中，进一步学会把握课文主要内容</tspan><tspan x="140" dy="13.8">（尤其是概括能力），了解文章的表达顺序，</tspan><tspan x="140" dy="13.8">体会作者的思想感情，初步领悟文章基本的表</tspan><tspan x="140" dy="13.8">达方法。在交流和讨论中，敢于提出自己的看</tspan><tspan x="140" dy="13.8">法，作出自己的判断。</tspan></text></g>
<g id="p2-c9"><text class="t" x="140" y="1405.7"><tspan x="140">6、诵读优秀诗文，注意通过诗文的声调、节</tspan><tspan x="140" dy="13.8">奏等体味作品的内容和情感。背诵优秀诗文1</tspan><tspan x="140" dy="13.8">0篇（段）。</tspan></text></g>
<g id="p2-c10"><text class="t" x="140" y="1480.5"><tspan x="140">7、扩展自己的阅读面，课外阅读总量不少于</tspan><tspan x="140" dy="13.8">25万字。</tspan></text></g>
<g id="p2-c11"><text class="t" x="140" y="1542"><tspan x="140">8、学习浏览，扩大知识面，根据需要搜集信</tspan><tspan x="140" dy="13.8">息。</tspan></text></g>
<g id="p2-c12"><text class="t" x="140" y="1604.8"><tspan x="140">9、受到优秀作品的感染和激励，向往和追求</tspan><tspan x="140" dy="13.8">美好的理想。</tspan></text></g>
<g id="p2-s3"><text class="t e" x="105" y="1612">(三) 习作</text></g>
<g id="p2-c13"><text class="t e" x="356" y="1665">1、懂得写作是为了自我表达和与人交流。</text></g>
<g id="p2-c14"><text class="t" x="140" y="1713"><tspan x="140">2、养成留心观察周围事物的习惯，有意识地</tspan><tspan x="140" dy="13.8">丰富自己的见闻，珍视个人的独特感受，积累</tspan><tspan x="140" dy="13.8">习作素材。</tspan></text></g>
<g id="p2-c15"><text class="t" x="140" y="1789"><tspan x="140">3、能写简单的纪实作文和想象作文，内容具</tspan><tspan x="140" dy="13.8">体，感情真实。详略得当。</tspan></text></g>
<g id="p2-c16"><text class="t e" x="356" y="1850">4、能根据表达需要，使用常用的标点符号。</text></g>
<g id="p2-c17"><text class="t" x="140" y="1898"><tspan x="140">5、能修改自己的习作，并主动与他人交换修</tspan><tspan x="140" dy="13.8">改，做到语句通顺，行款正确，书写规范、整</tspan><tspan x="140" dy="13.8">洁。</tspan></text></g>
<g id="p2-c18"><text class="t e" x="356" y="1973">6、40分钟能完成不少于400字的习作。</text></g>
<g id="p2-s4"><text class="t e" x="132" y="1973">(四) 口语实际</text></g>
<g id="p2-c19"><text class="t e" x="356" y="2020">1、与人交流能尊重、理解对方。</text></g>
<g id="p2-c20"><text class="t e" x="356" y="2068">2、乐于参与讨论，敢于发表自己的意见。</text></g>
<g id="p2-c21"><text class="t e" x="356" y="2116">3、表达要有条理，语气、语调适当。</text></g>
<g id="p2-s5"><text class="t e" x="142" y="2116">(五) 综合性学习</text></g>
<g id="p2-c22"><text class="t" x="140" y="2163"><tspan x="140">1、策划简单的校园活动和社会活动，对所策</tspan><tspan x="140" dy="13.8">划的主题进行讨论和分析。</tspan></text></g>
<g id="p2-c23"><text class="t" x="140" y="2225"><tspan x="140">2、初步了解查找资料、运用资料的基本方法</tspan><tspan x="140" dy="13.8">。</tspan></text></g>
<g id="p2-d"><text class="t e" x="456" y="2448">四、教学措施</text></g>
<g id="p2-d1"><text class="t" x="140" y="2286"><tspan x="140">1、创造性地使用教材，并且注意结合教学实</tspan><tspan x="140" dy="13.8">际情况，使理论和实践融合为一体。</tspan></text></g>
<g id="p2-d2"><text class="t" x="140" y="2347"><tspan x="140">2、在教学过程中，面向全体学生，根据学生</tspan><tspan x="140" dy="13.8">的不同的学习情况，适当地有针对性地分层次</tspan><tspan x="140" dy="13.8">制定具体的教学目标，杜绝以往简单的“一刀</tspan><tspan x="140" dy="13.8">切”的做法。</tspan></text></g>
<g id="p2-d3"><text class="t" x="140" y="2438"><tspan x="140">3、上课前，认真钻研教材内容，并与备课组</tspan><tspan x="140" dy="13.8">的其他老师共同商讨，精心设计好每一堂课的</tspan><tspan x="140" dy="13.8">教案。</tspan></text></g>
<g id="p2-d4"><text class="t" x="140" y="2513"><tspan x="140">4、始终以学生为学习主体，引导学生改变学</tspan><tspan x="140" dy="13.8">习方式，变为自主、合作、探究式学习，以提</tspan><tspan x="140" dy="13.8">高学习效率。</tspan></text></g>
<g id="p2-d5"><text class="t" x="140" y="2588"><tspan x="140">5、课后，注意有针对性地对学生进行集体辅</tspan><tspan x="140" dy="13.8">导和个别辅导，帮助学生及时复习好所学的新</tspan><tspan x="140" dy="13.8">知识。</tspan></text></g>

<g id="b-p4">
<polygon class="pk" points="738,3670 954,3670 964,3680 964,3719 738,3719"/>
<polygon class="fd" points="954,3670 954,3680 964,3680"/>
<text class="w" x="745" y="3690"><tspan x="745">小学六年级语文教学工作计划（精</tspan><tspan x="745" dy="18.5">选篇4）</tspan></text>
</g>
<g id="p4-a"><text class="t e" x="700" y="2777">一、班级基本情况：</text></g>
<g id="p4-a1"><text class="t" x="359" y="2663"><tspan x="359">本班共有学生36人。大部分学生较聪明，思</tspan><tspan x="359" dy="13.8">维活跃，作业能认真完成，有一定的互相竞争</tspan><tspan x="359" dy="13.8">意识。但也有少数学生没有很好的学习习惯，</tspan><tspan x="359" dy="13.8">语文成绩比较差的，希望本学期能提高学生的</tspan><tspan x="359" dy="13.8">语文成绩。</tspan></text></g>
<g id="p4-a2"><text class="t e" x="574" y="2766">[学生状况分析]</text></g>
<g id="p4-a3"><text class="t" x="359" y="2814"><tspan x="359">我所担任的六年级(2)班的学生，原有的语文</tspan><tspan x="359" dy="13.8">基础参差不齐，高低不一。因此新学期中，应</tspan><tspan x="359" dy="13.8">一面加强“双基”训练，一面着重阅读和写作能</tspan><tspan x="359" dy="13.8">力的提高注意培养学生对事物的好奇心和强</tspan><tspan x="359" dy="13.8">烈的探究兴趣;让学生观察周围事物，亲身体</tspan><tspan x="359" dy="13.8">验，有所感受，有所发现;使学生有强烈的参</tspan><tspan x="359" dy="13.8">与意识和合作精神，整体提高全体学生的语文</tspan><tspan x="359" dy="13.8">素养。</tspan></text></g>
<g id="p4-b"><text class="t e" x="700" y="3278">二、教学要求：</text></g>
<g id="p4-b1"><text class="t e" x="596" y="2964">(一)识字与写字</text></g>
<g id="p4-b1t"><text class="t" x="274" y="2958"><tspan x="274">有较强的独立识字能力。要求会写80个字。</tspan><tspan x="274" dy="13.8">硬笔书写楷书，行款整齐，有一定的速度。</tspan></text></g>
<g id="p4-b2"><text class="t e" x="596" y="3116">(二)阅读</text></g>
<g id="p4-b2t"><text class="t" x="306" y="3020"><tspan x="306">能用普通话正确、流利、有感情地朗读课文。</tspan><tspan x="306" dy="13.8">默读有一定的速度，默读一般读物每分钟不少</tspan><tspan x="306" dy="13.8">于300字。能借助词典阅读，理解词语在语言</tspan><tspan x="306" dy="13.8">环境中的恰当意义，辨别词语的感情色彩。联</tspan><tspan x="306" dy="13.8">系上下文和自己的积累，推想课文中有关词句</tspan><tspan x="306" dy="13.8">的内涵，体会其表达效果。在阅读中揣摩文章</tspan><tspan x="306" dy="13.8">的表达顺序，体会作者的思想感情，领悟文章</tspan><tspan x="306" dy="13.8">基本的表达方法。在交流和讨论中，敢于提出</tspan><tspan x="306" dy="13.8">自己的看法，做出自己的判断。阅读说明性文</tspan><tspan x="306" dy="13.8">章，能抓住要点，了解文章的基本说明方法。</tspan><tspan x="306" dy="13.8">学习浏览，扩大知识面，根据需要搜集信息。</tspan><tspan x="306" dy="13.8">在理解课文的过程中，体会顿号与逗号、分号</tspan><tspan x="306" dy="13.8">与句号的不同用法。诵读优秀诗文，注意通过</tspan><tspan x="306" dy="13.8">诗文的声调、节奏等体味作品的内容和情感。</tspan><tspan x="306" dy="13.8">背诵优秀诗文60篇(段)。</tspan></text></g>
<g id="p4-b3"><text class="t e" x="596" y="3296">(三)习作</text></g>
<g id="p4-b3t"><text class="t" x="306" y="3262"><tspan x="306">养成留心观察周围事物的习惯，有意识地丰富</tspan><tspan x="306" dy="13.8">自己的见闻，珍视个人的独特感受，积累习作</tspan><tspan x="306" dy="13.8">素材。能写简单的纪实作文和想象作文，内容</tspan><tspan x="306" dy="13.8">具体，感情真实。能根据习作内容表达的需要</tspan><tspan x="306" dy="13.8">，分段表述。学写读书笔记和常见应用文。能</tspan><tspan x="306" dy="13.8">根据表达需要，使用常用的标点符号。</tspan></text></g>
<g id="p4-b4"><text class="t e" x="596" y="3440">(四)口语实际</text></g>
<g id="p4-b4a"><text class="t" x="284" y="3378"><tspan x="284">与人交流能尊重、理解对方。乐于参与讨论，</tspan><tspan x="284" dy="13.8">敢于发表自己的意见。听他人说话认真耐心，</tspan><tspan x="284" dy="13.8">能抓住要点，并能简要转述。表达要有条理，</tspan><tspan x="284" dy="13.8">语气、语调适当。</tspan></text></g>
<g id="p4-b4b"><text class="t" x="284" y="3467"><tspan x="284">能根据交流的对象和场合，稍做准备，做简单</tspan><tspan x="284" dy="13.8">的发言。在交际中注意语言美，抵制不文明的</tspan><tspan x="284" dy="13.8">语言。</tspan></text></g>
<g id="p4-b5"><text class="t e" x="596" y="3591">(五)综合性学习</text></g>
<g id="p4-b5t"><text class="t" x="274" y="3542"><tspan x="274">为解决与学习和生活相关的问题，利用图书馆</tspan><tspan x="274" dy="13.8">、网络等信息渠道获取资料，尝试写简单的研</tspan><tspan x="274" dy="13.8">究报告。策划简单的校园活动和社会活动，对</tspan><tspan x="274" dy="13.8">所策划的主题进行讨论和分析，学写活动计划</tspan><tspan x="274" dy="13.8">和活动总结。对自己身边的、大家共同关注的</tspan><tspan x="274" dy="13.8">问题，或电视、电影中的故事和形象，组织讨</tspan><tspan x="274" dy="13.8">论、专题演讲，学习辨别是非善恶。了解查找</tspan><tspan x="274" dy="13.8">资料、运用资料的基本方法。</tspan></text></g>
<g id="p4-c"><text class="t e" x="700" y="3701">三、教学重点：</text></g>
<g id="p4-ct"><text class="t" x="381" y="3687"><tspan x="381">加强综合，突出重点，注重语言的感悟、积累</tspan><tspan x="381" dy="13.8">和运用，注重基本技能的训练，从整体上提高</tspan><tspan x="381" dy="13.8">学生的语文素养。</tspan></text></g>
<g id="p4-d"><text class="t e" x="700" y="3776">四、教学难点：</text></g>
<g id="p4-dt"><text class="t" x="381" y="3762"><tspan x="381">学生在阅读方面层次比较差，导致写作能力也</tspan><tspan x="381" dy="13.8">不高，本学期语文课的教学最难的地方，就是</tspan><tspan x="381" dy="13.8">如何提高学生的阅读和写作水平。</tspan></text></g>
<g id="p4-e"><text class="t e" x="700" y="4072">五、教学措施：</text></g>
<g id="p4-e1"><text class="t" x="381" y="3837.5"><tspan x="381">1、转变教学观念，树立正确教学观，以育人</tspan><tspan x="381" dy="13.8">为主，培养创新型人才。</tspan></text></g>
<g id="p4-e2"><text class="t" x="381" y="3898"><tspan x="381">2、认真学习新课标，在课堂中渗透新理念，</tspan><tspan x="381" dy="13.8">不搞应试教育，以培养学生良好的学习习惯，</tspan><tspan x="381" dy="13.8">自学能力及合作交往等能力为主，提高学生语</tspan><tspan x="381" dy="13.8">言的听说读写能力。</tspan></text></g>
<g id="p4-e3"><text class="t" x="381" y="3988"><tspan x="381">3、优化教学手段，积极使用多媒体教学，以</tspan><tspan x="381" dy="13.8">学生喜闻乐见的方式方法提高学习兴趣，从而</tspan><tspan x="381" dy="13.8">提高课堂效率。</tspan></text></g>
<g id="p4-e4"><text class="t" x="381" y="4064"><tspan x="381">4、加强读写训练，启发督促学生多读课外书</tspan><tspan x="381" dy="13.8">，读好课外书，和好书交朋友，养成读课外书</tspan><tspan x="381" dy="13.8">的习惯，同时指导学生注意积累，勤动笔，养</tspan><tspan x="381" dy="13.8">成做读书笔记的习惯。</tspan></text></g>
<g id="p4-e5"><text class="t" x="381" y="4154"><tspan x="381">5、精心设计各类练习，不滥抄滥做，减轻学</tspan><tspan x="381" dy="13.8">生课业负担。</tspan></text></g>
<g id="p4-e6"><text class="t" x="381" y="4215"><tspan x="381">6、教师团结协作，经常交流工作中的成功与</tspan><tspan x="381" dy="13.8">失败，群策群力，让每一个学生都能成为合格</tspan><tspan x="381" dy="13.8">的毕业生。</tspan></text></g>
<g id="p4-e7"><text class="t" x="381" y="4291"><tspan x="381">7、加强教学研究工作，及时积累经验，积极</tspan><tspan x="381" dy="13.8">撰写总结论文、教学论文，提高自身素质。</tspan></text></g>
<g id="p4-f"><text class="t e" x="700" y="4463">六、做好差生的转化工作：</text></g>
<g id="p4-ft"><text class="t" x="327" y="4352"><tspan x="327">后进生产生后进原因的因素是非常之多，作为</tspan><tspan x="327" dy="13.8">老师要想转化后进生，首先要让学生找回自信</tspan><tspan x="327" dy="13.8">，鼓励是后进生找回自信的最好良药。在上课</tspan><tspan x="327" dy="13.8">的时候，老师要专门捡后进生会的东西提问，</tspan><tspan x="327" dy="13.8">不要在课堂上随便批评他，要经常在课上课下</tspan><tspan x="327" dy="13.8">抓住后进生的闪光点进行表扬，哪怕是点点进</tspan><tspan x="327" dy="13.8">步。只要后进生找回了自信，他对学习就产生</tspan><tspan x="327" dy="13.8">了兴趣，然后再慢慢给后进生加餐。我认为这</tspan><tspan x="327" dy="13.8">是转化后进生的良药。如果认为后进生可以轻</tspan><tspan x="327" dy="13.8">而易举实现转化，不用做艰苦的工作，那倒是</tspan><tspan x="327" dy="13.8">有点不正常。所以转化后进生需有耐心。耐心</tspan><tspan x="327" dy="13.8">，就是要允许学生有多次反复，就是要提倡一</tspan><tspan x="327" dy="13.8">而再，再而三地做教育工作，循序渐进，由浅</tspan><tspan x="327" dy="13.8">入深，由低向高发展，这是历史以来有效的教</tspan><tspan x="327" dy="13.8">育原则。在以往的教学中，我用这种办法转化</tspan><tspan x="327" dy="13.8">了一大批后进生，效果十分明显。本学期将继</tspan><tspan x="327" dy="13.8">续抓好差下生的转化工作。</tspan></text></g>
<g id="p4-g"><text class="t e" x="707" y="4622">七、教学进度安排：(略)</text></g>
</g>
</svg>
